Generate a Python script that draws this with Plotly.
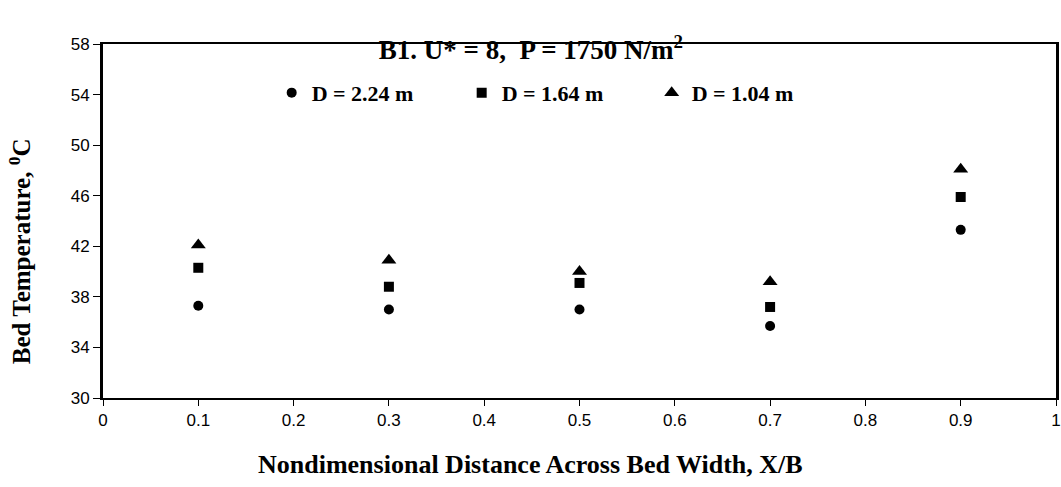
import plotly.graph_objects as go

x_pos = [0.1, 0.3, 0.5, 0.7, 0.9]
d_224 = [37.3, 37.0, 37.0, 35.7, 43.3]
d_164 = [40.3, 38.8, 39.1, 37.2, 45.9]
d_104 = [42.1, 40.9, 40.0, 39.2, 48.1]

series_names = ["D = 2.24 m", "D = 1.64 m", "D = 1.04 m"]
symbols = ["circle", "square", "triangle-up"]
sizes = [10, 10, 13]

x_ticks = [0, 0.1, 0.2, 0.3, 0.4, 0.5, 0.6, 0.7, 0.8, 0.9, 1]
y_ticks = [30, 34, 38, 42, 46, 50, 54, 58]

title_text = "<b>B1. U* = 8,  P = 1750 N/m<sup>2</sup></b>"
x_title = "<b>Nondimensional Distance Across Bed Width, X/B</b>"
y_title = "<b>Bed Temperature, <sup>0</sup>C</b>"

serif = "Liberation Serif, Times New Roman, serif"
sans = "Liberation Sans, Arial, sans-serif"

fig = go.Figure()
for name, ys, sym, sz in zip(series_names, [d_224, d_164, d_104], symbols, sizes):
    fig.add_trace(go.Scatter(
        x=x_pos, y=ys, mode="markers", name=name,
        marker=dict(symbol=sym, size=sz, color="black", line=dict(width=0)),
    ))

fig.update_layout(
    width=1061, height=487,
    margin=dict(l=103, r=5, t=44, b=89, autoexpand=False),
    paper_bgcolor="white", plot_bgcolor="white",
    title=dict(
        text=title_text,
        x=0.449, xanchor="center", xref="paper",
        y=0.983, yanchor="middle", yref="paper",
        font=dict(family=serif, size=27, color="black"),
        automargin=False,
    ),
    legend=dict(
        orientation="h", x=0.177, xanchor="left", y=0.862, yanchor="middle",
        font=dict(family=serif, size=22, color="black", weight="bold"),
        bgcolor="rgba(0,0,0,0)", itemwidth=30, entrywidth=145,
        entrywidthmode="pixels",
    ),
    showlegend=True,
    font=dict(family=sans, color="black"),
    annotations=[
        dict(text=x_title, xref="paper", yref="paper", x=0.449, y=-0.189,
             xanchor="center", yanchor="middle", showarrow=False,
             font=dict(family=serif, size=26, color="black")),
        dict(text=y_title, xref="paper", yref="paper", x=-0.087, y=0.415,
             xanchor="center", yanchor="middle", showarrow=False, textangle=-90,
             font=dict(family=serif, size=25, color="black")),
    ],
)

fig.update_xaxes(
    range=[0, 1], tickvals=x_ticks, ticktext=[str(v) for v in x_ticks],
    showline=True, linecolor="black", linewidth=2, mirror=True,
    ticks="outside", ticklen=6, tickwidth=1, tickcolor="black",
    showgrid=False, zeroline=False, automargin=False,
    ticklabeloverflow="allow",
    tickfont=dict(family=sans, size=17, color="black"),
)
fig.update_yaxes(
    range=[30, 58], tickvals=y_ticks, ticktext=[str(v) for v in y_ticks],
    showline=True, linecolor="black", linewidth=3, mirror=True,
    ticks="outside", ticklen=7, tickwidth=1, tickcolor="black",
    showgrid=False, zeroline=False, automargin=False,
    ticklabeloverflow="allow",
    tickfont=dict(family=sans, size=17, color="black"),
)

fig.write_html(
    "out.html",
    config={"displayModeBar": False},
    post_script="document.body.style.margin='0px';document.body.style.overflow='hidden';",
)
